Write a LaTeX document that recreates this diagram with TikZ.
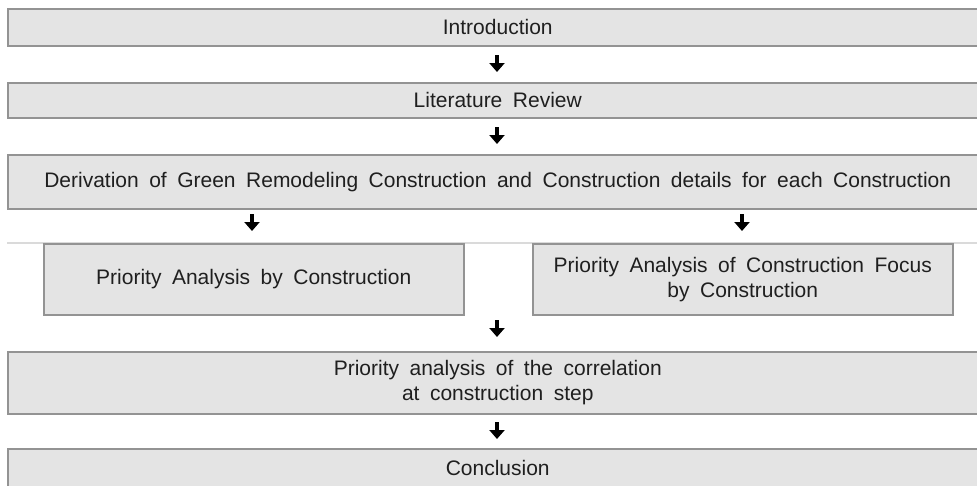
\documentclass[tikz,border=0pt]{standalone}
\usepackage{fontspec}
\setmainfont{Liberation Sans}[WordSpace={1.8}]
\usetikzlibrary{arrows.meta}
\definecolor{boxfill}{HTML}{E4E4E4}
\definecolor{boxline}{HTML}{939393}
\definecolor{sepline}{HTML}{DADADA}
\tikzset{
  box/.style={draw=boxline, fill=boxfill, line width=1.5pt, inner sep=0pt, align=center,
    font=\fontsize{21}{25}\selectfont, text=black!88},
  fullbox/.style={box, minimum width=980pt, anchor=north west},
  halfbox/.style={box, minimum width=420pt, minimum height=71pt, anchor=north west},
  flowarrow/.style={line width=4.2pt, -{Triangle[width=15pt,length=9pt]}, black},
}
\begin{document}
\begin{tikzpicture}[x=1pt,y=-1pt]
\useasboundingbox (0,0) rectangle (977,485);
\fill[white] (0,0) rectangle (977,485);
\node[fullbox, minimum height=37pt] (intro) at (7,8) {Introduction};
\node[fullbox, minimum height=35pt] (lit) at (7,82) {Literature Review};
\node[fullbox, minimum height=54pt] (deriv) at (7,154) {Derivation of Green Remodeling Construction and Construction details for each Construction};
\draw[sepline, line width=1.5pt] (7,243) coordinate (sepL) -- (977,243) coordinate (sepR);
\node[halfbox] (pa) at (43,243) {Priority Analysis by Construction};
\node[halfbox] (pb) at (532,243) {Priority Analysis of Construction Focus\\by Construction};
\node[fullbox, minimum height=62pt] (corr) at (7,351) {Priority analysis of the correlation\\at construction step};
\node[fullbox, minimum height=38pt] (concl) at (7,448) {Conclusion};

\coordinate (a1s) at (497,55); \coordinate (a1e) at (497,72);
\coordinate (a2s) at (497,127); \coordinate (a2e) at (497,144);
\coordinate (a3s) at (252,214); \coordinate (a3e) at (252,231);
\coordinate (a4s) at (742,214); \coordinate (a4e) at (742,231);
\coordinate (a5s) at (497,320); \coordinate (a5e) at (497,337);
\coordinate (a6s) at (497,422); \coordinate (a6e) at (497,439);
\foreach \s/\e in {a1s/a1e,a2s/a2e,a3s/a3e,a4s/a4e,a5s/a5e,a6s/a6e}
  \draw[flowarrow] (\s) -- (\e);
\end{tikzpicture}
\end{document}
